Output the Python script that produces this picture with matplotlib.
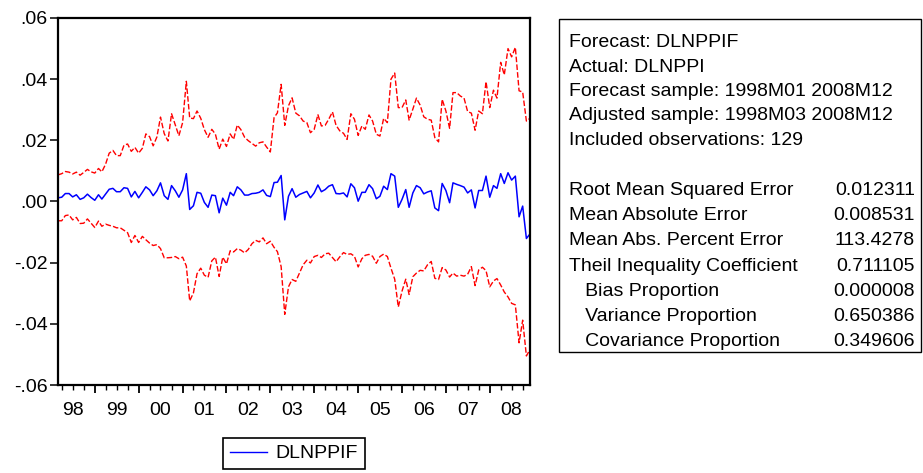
import matplotlib
matplotlib.use("Agg")
import matplotlib.pyplot as plt
import matplotlib.dates as mdates
import matplotlib.transforms as mtransforms
from matplotlib.patches import Rectangle
from matplotlib.lines import Line2D
import pandas as pd

plt.rcParams['font.family'] = ['Liberation Sans', 'DejaVu Sans']

# DLNPPIF forecast and +/- 2 S.E. bands, monthly 1998M03 - 2008M12
forecast = [
    0.0012, 0.0014, 0.0026, 0.0026, 0.0015, 0.0022, 0.0007, 0.0012, 0.0024, 0.0013,
    0.0004, 0.0022, 0.0008, 0.0024, 0.0040, 0.0043, 0.0032, 0.0032, 0.0045, 0.0043,
    0.0015, 0.0033, 0.0012, 0.0030, 0.0048, 0.0038, 0.0019, 0.0035, 0.0061, 0.0019,
    0.0007, 0.0052, 0.0035, 0.0014, 0.0038, 0.0091, -0.0026, -0.0014, 0.0030, 0.0027,
    -0.0003, -0.0019, 0.0021, 0.0019, -0.0037, 0.0011, -0.0012, 0.0030, 0.0019, 0.0048,
    0.0038, 0.0021, 0.0021, 0.0026, 0.0027, 0.0030, 0.0038, 0.0020, 0.0016, 0.0062,
    0.0063, 0.0085, -0.0060, 0.0017, 0.0042, 0.0014, 0.0023, 0.0028, 0.0033, 0.0012,
    0.0028, 0.0054, 0.0032, 0.0039, 0.0050, 0.0055, 0.0026, 0.0025, 0.0028, 0.0015,
    0.0058, 0.0045, 0.0001, 0.0030, 0.0030, 0.0055, 0.0042, 0.0009, 0.0017, 0.0050,
    0.0039, 0.0091, 0.0083, -0.0019, 0.0007, 0.0039, -0.0019, 0.0028, 0.0052, 0.0045,
    0.0025, 0.0031, 0.0035, -0.0021, -0.0030, 0.0059, 0.0036, -0.0004, 0.0061, 0.0056,
    0.0052, 0.0047, 0.0028, 0.0038, -0.0021, 0.0036, 0.0036, 0.0083, 0.0014, 0.0052,
    0.0043, 0.0091, 0.0059, 0.0094, 0.0070, 0.0083, -0.0050, -0.0015, -0.0121, -0.0106,
]
upper = [
    0.0087, 0.0091, 0.0098, 0.0096, 0.0090, 0.0096, 0.0086, 0.0095, 0.0105, 0.0097,
    0.0093, 0.0108, 0.0097, 0.0122, 0.0158, 0.0167, 0.0150, 0.0150, 0.0184, 0.0188,
    0.0164, 0.0177, 0.0158, 0.0174, 0.0221, 0.0212, 0.0182, 0.0211, 0.0276, 0.0222,
    0.0198, 0.0287, 0.0250, 0.0215, 0.0258, 0.0393, 0.0273, 0.0271, 0.0296, 0.0272,
    0.0235, 0.0210, 0.0236, 0.0220, 0.0171, 0.0204, 0.0180, 0.0221, 0.0203, 0.0250,
    0.0235, 0.0210, 0.0199, 0.0190, 0.0181, 0.0192, 0.0195, 0.0178, 0.0162, 0.0274,
    0.0290, 0.0383, 0.0249, 0.0313, 0.0339, 0.0289, 0.0280, 0.0263, 0.0258, 0.0225,
    0.0236, 0.0284, 0.0247, 0.0249, 0.0269, 0.0293, 0.0249, 0.0231, 0.0223, 0.0203,
    0.0287, 0.0269, 0.0216, 0.0247, 0.0236, 0.0283, 0.0263, 0.0220, 0.0214, 0.0272,
    0.0258, 0.0400, 0.0420, 0.0307, 0.0307, 0.0332, 0.0266, 0.0302, 0.0338, 0.0315,
    0.0277, 0.0269, 0.0266, 0.0209, 0.0195, 0.0334, 0.0296, 0.0239, 0.0356, 0.0356,
    0.0345, 0.0338, 0.0294, 0.0289, 0.0233, 0.0296, 0.0287, 0.0392, 0.0307, 0.0364,
    0.0338, 0.0455, 0.0414, 0.0500, 0.0473, 0.0504, 0.0362, 0.0358, 0.0263, 0.0272,
]
lower = [
    -0.0063, -0.0063, -0.0046, -0.0044, -0.0060, -0.0052, -0.0072, -0.0071, -0.0057, -0.0071,
    -0.0085, -0.0064, -0.0081, -0.0074, -0.0078, -0.0081, -0.0086, -0.0086, -0.0094, -0.0102,
    -0.0134, -0.0111, -0.0134, -0.0114, -0.0125, -0.0136, -0.0144, -0.0141, -0.0154, -0.0184,
    -0.0184, -0.0183, -0.0180, -0.0187, -0.0182, -0.0211, -0.0325, -0.0299, -0.0236, -0.0218,
    -0.0241, -0.0248, -0.0194, -0.0182, -0.0245, -0.0182, -0.0204, -0.0161, -0.0165, -0.0154,
    -0.0159, -0.0168, -0.0157, -0.0138, -0.0127, -0.0132, -0.0119, -0.0138, -0.0130, -0.0150,
    -0.0164, -0.0213, -0.0369, -0.0279, -0.0255, -0.0261, -0.0234, -0.0207, -0.0192, -0.0201,
    -0.0180, -0.0176, -0.0183, -0.0171, -0.0169, -0.0183, -0.0197, -0.0181, -0.0167, -0.0173,
    -0.0171, -0.0179, -0.0214, -0.0187, -0.0176, -0.0173, -0.0179, -0.0202, -0.0180, -0.0172,
    -0.0180, -0.0218, -0.0254, -0.0345, -0.0293, -0.0254, -0.0304, -0.0246, -0.0234, -0.0225,
    -0.0227, -0.0207, -0.0196, -0.0251, -0.0255, -0.0216, -0.0224, -0.0247, -0.0234, -0.0244,
    -0.0241, -0.0244, -0.0238, -0.0213, -0.0275, -0.0224, -0.0215, -0.0226, -0.0279, -0.0260,
    -0.0252, -0.0273, -0.0296, -0.0312, -0.0333, -0.0338, -0.0462, -0.0388, -0.0505, -0.0484,
]

year_labels = ['98', '99', '00', '01', '02', '03', '04', '05', '06', '07', '08']
y_ticks = [-0.06, -0.04, -0.02, 0.0, 0.02, 0.04, 0.06]
y_tick_labels = ['-.06', '-.04', '-.02', '.00', '.02', '.04', '.06']

header_lines = [
    'Forecast: DLNPPIF',
    'Actual: DLNPPI',
    'Forecast sample: 1998M01 2008M12',
    'Adjusted sample: 1998M03 2008M12',
    'Included observations: 129',
]
stat_names = [
    'Root Mean Squared Error',
    'Mean Absolute Error',
    'Mean Abs. Percent Error',
    'Theil Inequality Coefficient',
    '   Bias Proportion',
    '   Variance Proportion',
    '   Covariance Proportion',
]
stat_values = ['0.012311', '0.008531', '113.4278', '0.711105',
               '0.000008', '0.650386', '0.349606']

dates = pd.date_range('1998-03-01', periods=len(forecast), freq='MS')

W, H = 923, 473
fig = plt.figure(figsize=(W / 100, H / 100), dpi=100)
ax = fig.add_axes([58 / W, 1 - 385 / H, 472 / W, 367 / H])

ax.plot(dates, upper, color='#ff0000', lw=1.0, dashes=(4, 1.6))
ax.plot(dates, lower, color='#ff0000', lw=1.0, dashes=(4, 1.6))
ax.plot(dates, forecast, color='#0000ff', lw=1.1)

ax.set_xlim(dates[0], dates[-1])
ax.set_ylim(-0.06, 0.06)

for s in ax.spines.values():
    s.set_linewidth(1.6)
    s.set_color('black')

ax.set_yticks(y_ticks)
ax.set_yticklabels(y_tick_labels, fontsize=14)
ax.tick_params(axis='y', direction='out', length=6, width=1.1, pad=1.5)

ax.xaxis.set_major_locator(mdates.YearLocator())
ax.xaxis.set_minor_locator(mdates.MonthLocator(bymonth=[1, 4, 7, 10]))
ax.xaxis.set_major_formatter(plt.NullFormatter())
ax.tick_params(axis='x', which='major', direction='out', length=6, width=1.3)
ax.tick_params(axis='x', which='minor', direction='out', length=3.5, width=1.0)

# year labels centred in each calendar year
trans = mtransforms.blended_transform_factory(ax.transData, ax.transAxes)
for k, lab in enumerate(year_labels):
    mid = pd.Timestamp(year=1998 + k, month=7, day=1)
    ax.text(mdates.date2num(mid), -30 / 367, lab, transform=trans,
            ha='center', va='baseline', fontsize=14)

# legend box below the chart
leg = fig.legend(handles=[Line2D([], [], color='#0000ff', lw=1.0)], labels=['DLNPPIF'],
                 loc='center', bbox_to_anchor=(294 / W, 1 - 453.5 / H),
                 fontsize=14, frameon=True, fancybox=False, edgecolor='black',
                 framealpha=1, handlelength=1.9, handletextpad=0.45, borderpad=0.35)
leg.get_frame().set_linewidth(1.2)

# statistics box
fig.add_artist(Rectangle((559 / W, 1 - 352 / H), (921 - 559) / W, (352 - 19) / H,
                         transform=fig.transFigure, fill=False, ec='black', lw=1.0))
for k, txt in enumerate(header_lines):
    fig.text(569 / W, 1 - (47 + k * 24.5) / H, txt, fontsize=14, va='baseline')
for k, (name, val) in enumerate(zip(stat_names, stat_values)):
    yb = 1 - (195 + k * 25.2) / H
    fig.text(569 / W, yb, name, fontsize=14, va='baseline')
    fig.text(915 / W, yb, val, fontsize=14, va='baseline', ha='right')

fig.savefig('out.png', dpi=100)
